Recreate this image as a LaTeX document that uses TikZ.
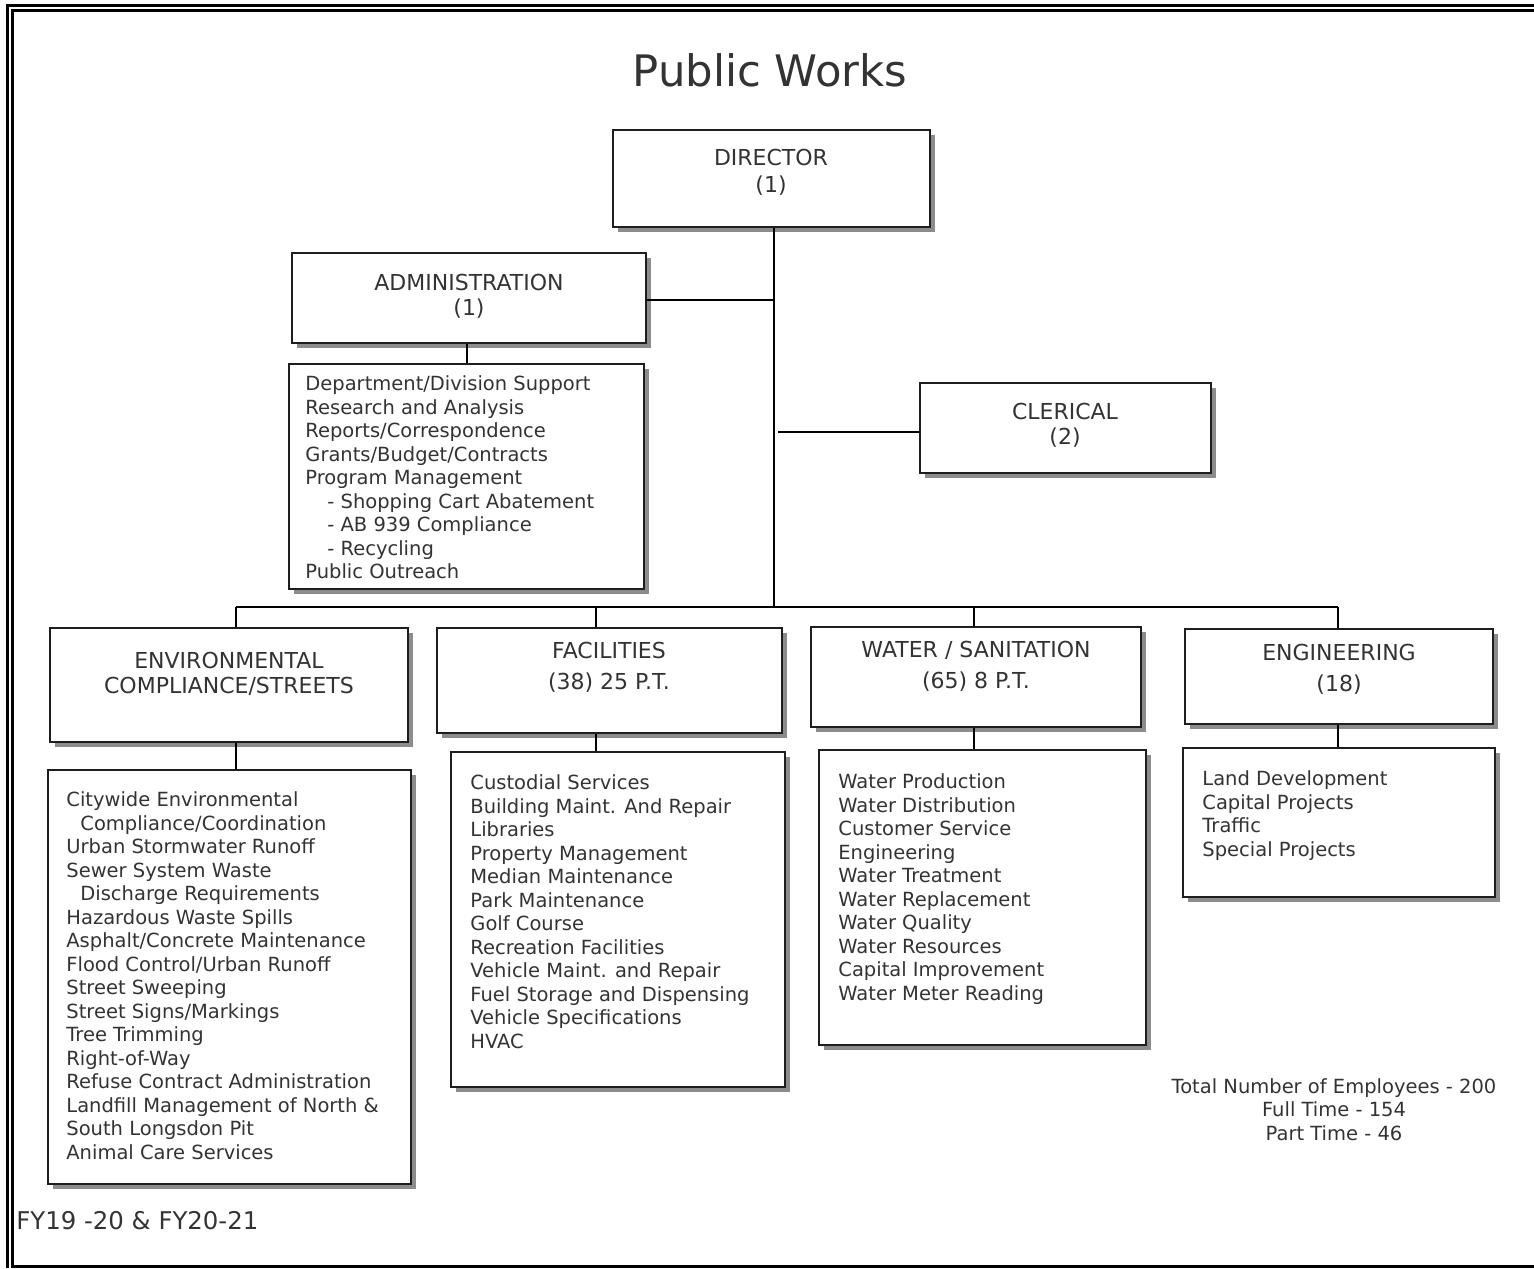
\documentclass[tikz,border=0pt]{standalone}
\usepackage{fontspec}
\setmainfont{DejaVu Sans}
\usetikzlibrary{fit,shadows}
\definecolor{ink}{HTML}{333333}
\definecolor{edge}{HTML}{1E1E1E}
\definecolor{shade}{HTML}{8C8C8C}
\begin{document}
\begin{tikzpicture}[x=0.5pt,y=-0.5pt,
  card/.style={draw=edge, line width=0.8pt, fill=white, inner sep=0pt,
    general shadow={fill=shade, shadow xshift=2.5pt, shadow yshift=-2.5pt}},
  head/.style={text=ink, align=center, inner sep=0pt, font=\fontsize{11}{12.5}\selectfont},
  headwide/.style={head, font=\fontsize{11}{15.5}\selectfont},
  duties/.style={text=ink, align=left, anchor=north west, inner sep=0pt,
    font=\fontsize{9.75}{11.75}\selectfont},
  conn/.style={line width=1.3pt, black},
  drop/.style={line width=0.9pt, black},
  frame/.style={line width=1.5pt, black}]

\useasboundingbox (0,0) rectangle (1534,1268);

% double page frame
\draw[frame] (7.5,1268) -- (7.5,5.5) -- (1534,5.5);
\draw[frame] (1534,10.5) -- (12.5,10.5) -- (12.5,1266) -- (1534,1266);

% title
\node[text=ink, inner sep=0pt, font=\fontsize{21.7}{26}\selectfont] (title) at (770,70) {Public Works};

% boxes
\node[card, fit={(613,130) (930,227)}] (director) {};
\node[card, fit={(292,253) (646,343)}] (admin) {};
\node[card, fit={(289,364) (644,589)}] (adminlist) {};
\node[card, fit={(920,383) (1211,473)}] (clerical) {};
\node[card, fit={(50,628) (408,742)}] (env) {};
\node[card, fit={(437,628) (782,733)}] (fac) {};
\node[card, fit={(811,627) (1141,727)}] (water) {};
\node[card, fit={(1185,629) (1493,724)}] (eng) {};
\node[card, fit={(48,770) (411,1184)}] (envlist) {};
\node[card, fit={(451,752) (785,1087)}] (faclist) {};
\node[card, fit={(819,750) (1146,1045)}] (waterlist) {};
\node[card, fit={(1183,748) (1495,897)}] (englist) {};

% headings
\node[head, font=\fontsize{11}{13.5}\selectfont] (director-t) at (771,172.5) {DIRECTOR\\(1)};
\node[head] (admin-t) at (469,296.5) {ADMINISTRATION\\(1)};
\node[head] (clerical-t) at (1065,425.5) {CLERICAL\\(2)};
\node[head] (env-t) at (229,673.5) {ENVIRONMENTAL\\COMPLIANCE/STREETS};
\node[headwide] (fac-t) at (609,667.5) {FACILITIES\\(38) 25 P.T.};
\node[headwide] (water-t) at (976,666.5) {WATER / SANITATION\\(65) 8 P.T.};
\node[headwide] (eng-t) at (1339,669.5) {ENGINEERING\\(18)};

% duty lists
\node[duties] (adminlist-t) at (305,375.5) {Department/Division Support\\
Research and Analysis\\
Reports/Correspondence\\
Grants/Budget/Contracts\\
Program Management\\
\hspace*{11pt}- Shopping Cart Abatement\\
\hspace*{11pt}- AB 939 Compliance\\
\hspace*{11pt}- Recycling\\
Public Outreach};

\node[duties] (envlist-t) at (66,791.5) {Citywide Environmental\\
\hspace*{7pt}Compliance/Coordination\\
Urban Stormwater Runoff\\
Sewer System Waste\\
\hspace*{7pt}Discharge Requirements\\
Hazardous Waste Spills\\
Asphalt/Concrete Maintenance\\
Flood Control/Urban Runoff\\
Street Sweeping\\
Street Signs/Markings\\
Tree Trimming\\
Right-of-Way\\
Refuse Contract Administration\\
Landfill Management of North \&\\
South Longsdon Pit\\
Animal Care Services};

\node[duties] (faclist-t) at (470,774.5) {Custodial Services\\
Building Maint. And Repair\\
Libraries\\
Property Management\\
Median Maintenance\\
Park Maintenance\\
Golf Course\\
Recreation Facilities\\
Vehicle Maint. and Repair\\
Fuel Storage and Dispensing\\
Vehicle Specifications\\
HVAC};

\node[duties] (waterlist-t) at (838,773.5) {Water Production\\
Water Distribution\\
Customer Service\\
Engineering\\
Water Treatment\\
Water Replacement\\
Water Quality\\
Water Resources\\
Capital Improvement\\
Water Meter Reading};

\node[duties] (englist-t) at (1202,770.5) {Land Development\\
Capital Projects\\
Traffic\\
Special Projects};

% totals and footer
\node[text=ink, align=center, inner sep=0pt, font=\fontsize{9.75}{11.75}\selectfont] (totals) at (1334,1109.5)
  {Total Number of Employees - 200\\Full Time - 154\\Part Time - 46};
\node[text=ink, anchor=west, inner sep=0pt, font=\fontsize{12.2}{14}\selectfont] (fy) at (16,1221) {FY19 -20 \& FY20-21};

% junction points on the trunk and the bus
\coordinate (trunk) at (774,607);
\coordinate (jenv) at (236,607);
\coordinate (jfac) at (596,607);
\coordinate (jwater) at (974,607);
\coordinate (jeng) at (1338,607);
\coordinate (jadmin) at (467,0);
\coordinate (yadmin) at (0,300);
\coordinate (yclerical) at (0,432);

% connectors
\draw[conn] (director.south -| trunk) -- (trunk);
\draw[conn] (admin.east |- yadmin) -- (trunk |- yadmin);
\draw[conn] (clerical.west |- yclerical) -- ([xshift=2pt]trunk |- yclerical);
\draw[conn] (jenv) -- (jeng);
\draw[drop] (jenv) -- (env.north -| jenv);
\draw[drop] (jfac) -- (fac.north -| jfac);
\draw[drop] (jwater) -- (water.north -| jwater);
\draw[drop] (jeng) -- (eng.north -| jeng);
\draw[drop] (admin.south -| jadmin) -- (adminlist.north -| jadmin);
\draw[conn] (env.south -| jenv) -- (envlist.north -| jenv);
\draw[drop] (fac.south -| jfac) -- (faclist.north -| jfac);
\draw[drop] (water.south -| jwater) -- (waterlist.north -| jwater);
\draw[drop] (eng.south -| jeng) -- (englist.north -| jeng);
\end{tikzpicture}
\end{document}
